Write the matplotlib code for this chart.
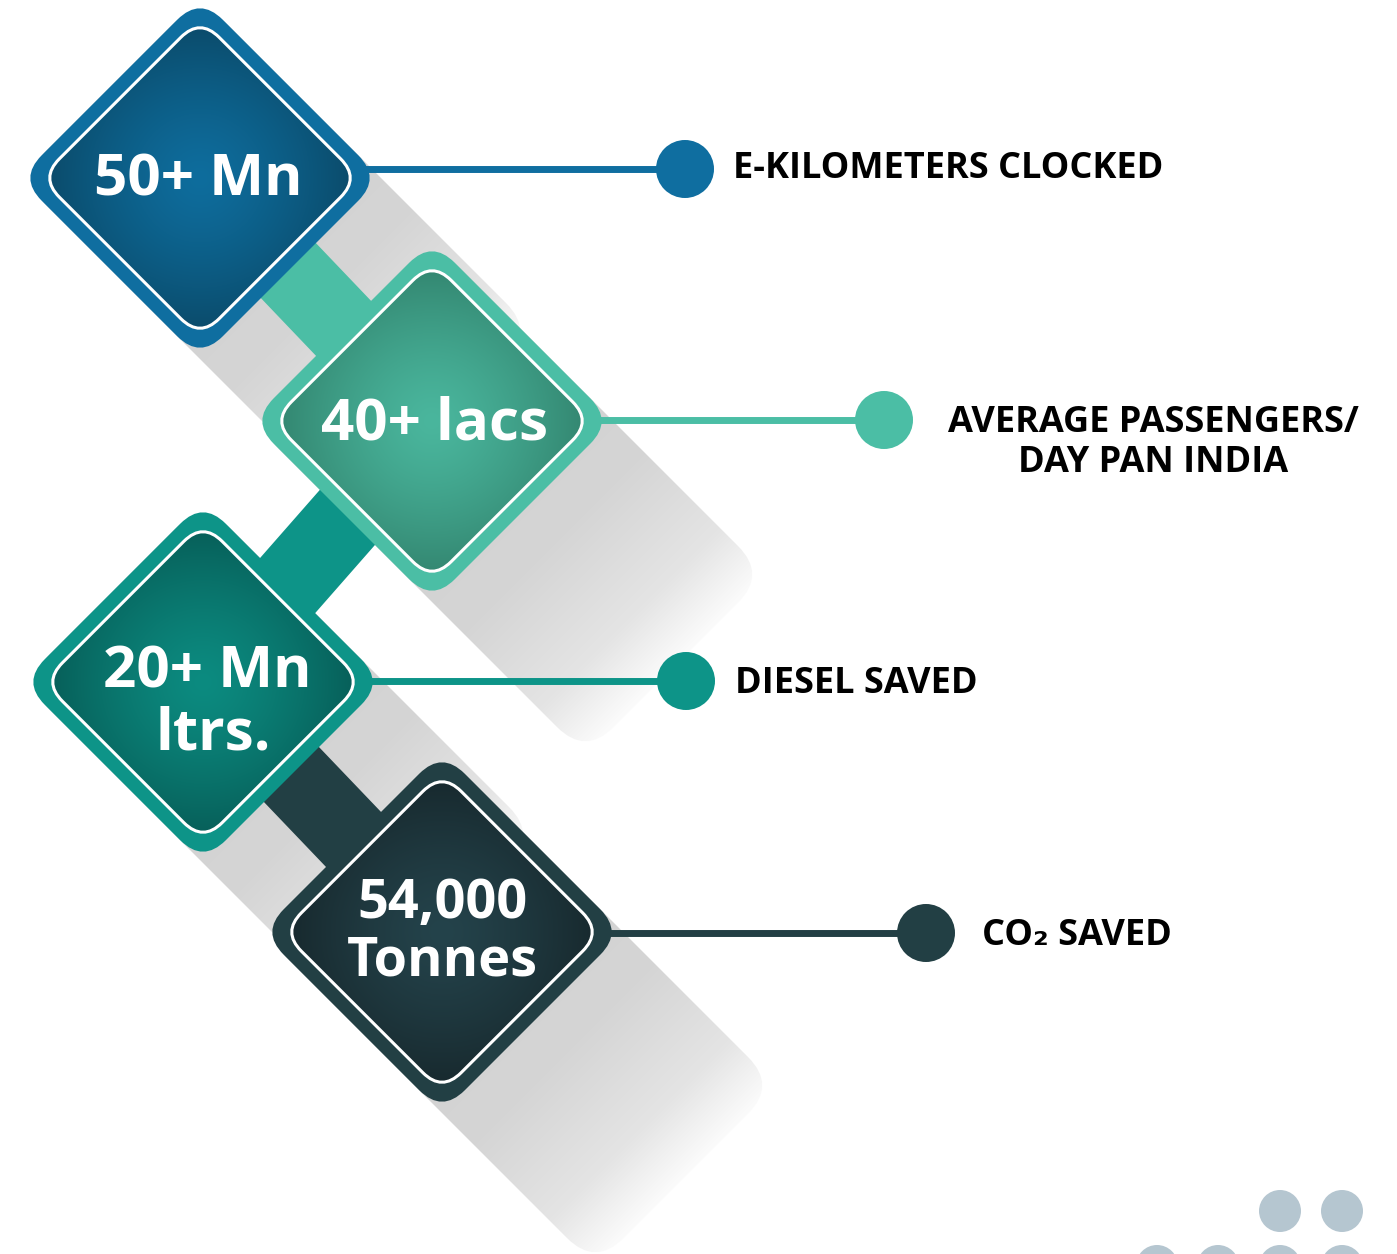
import numpy as np
import matplotlib
matplotlib.use("Agg")
import matplotlib.pyplot as plt
from matplotlib.patches import FancyBboxPatch, Circle
from matplotlib.transforms import Affine2D
from matplotlib.colors import to_rgb

W, H = 1397, 1254
FONT = ["Open Sans", "DejaVu Sans"]

# figures shown in the tiles and their captions
values = ["50+ Mn", "40+ lacs", "20+ Mn\nltrs.", "54,000\nTonnes"]
captions = ["E-KILOMETERS CLOCKED", "AVERAGE PASSENGERS/\nDAY PAN INDIA",
            "DIESEL SAVED", "CO₂ SAVED"]

# layout (pixels, y downwards)
centers = [(200, 178), (432, 421), (203, 682), (442, 932)]
line_y = [169, 420, 681, 933]
dot_x = [685, 884, 686, 926]
cap_x = [733, 1153, 735, 982]
cap_ha = ["left", "center", "left", "left"]
cap_base = [178, 432, 693, 945]
val_base = [195, 440, 687, 918]
val_x = [198, 435, 207, 442]

ring = ["#0f6ea0", "#4bbea5", "#0d9488", "#223f44"]
inner_mid = ["#0e6d9d", "#4ab69d", "#0c8b80", "#24434b"]
inner_edge = ["#0b4c6c", "#348872", "#07605a", "#182a2f"]

fig = plt.figure(figsize=(W / 100, H / 100), dpi=100)
ax = fig.add_axes([0, 0, 1, 1])
ax.set_xlim(0, W)
ax.set_ylim(H, 0)
ax.axis("off")

OUT_HALF, OUT_R = 128, 32
IN_HALF, IN_R = 113, 27
SH_LEN = 345


def rot(cx, cy):
    return Affine2D().rotate_deg_around(cx, cy, 45) + ax.transData


def grid(x0, x1, y0, y1):
    xs = np.arange(x0, x1) + 0.5
    ys = np.arange(y0, y1) + 0.5
    return np.meshgrid(xs, ys)


# long shadows running down-right from each tile
for cx, cy in centers:
    band = FancyBboxPatch((cx - OUT_HALF, cy - OUT_HALF), OUT_HALF + SH_LEN, 2 * OUT_HALF,
                          boxstyle=f"round,pad=0,rounding_size=40",
                          transform=rot(cx, cy), fc="none", ec="none")
    ax.add_patch(band)
    x0, x1, y0, y1 = cx - 200, cx + 420, cy - 200, cy + 420
    X, Y = grid(x0, x1, y0, y1)
    t = ((X - cx) + (Y - cy)) / np.sqrt(2)
    a = np.interp(t, [0, 170, 280, SH_LEN], [1.0, 0.95, 0.6, 0.08])
    img = np.zeros(X.shape + (4,))
    img[..., :3] = to_rgb("#d2d2d2")
    img[..., 3] = a
    im = ax.imshow(img, extent=(x0, x1, y1, y0), origin="upper", zorder=1,
                   interpolation="bilinear")
    im.set_clip_path(band)

# thick links between consecutive tiles, coloured like the lower tile
for i in range(1, len(centers)):
    (xa, ya), (xb, yb) = centers[i - 1], centers[i]
    ax.plot([xa, xb], [ya, yb], color=ring[i], lw=56, solid_capstyle="butt", zorder=2)

# leader lines with end dots
for i, (cx, cy) in enumerate(centers):
    ax.plot([cx, dot_x[i]], [line_y[i], line_y[i]], color=ring[i], lw=5,
            solid_capstyle="butt", zorder=2)
    ax.add_patch(Circle((dot_x[i], line_y[i]), 29, color=ring[i], zorder=2, lw=0))

# tiles: coloured ring, radial gradient core, thin white outline
for i, (cx, cy) in enumerate(centers):
    tr = rot(cx, cy)
    ax.add_patch(FancyBboxPatch((cx - OUT_HALF, cy - OUT_HALF), 2 * OUT_HALF, 2 * OUT_HALF,
                                boxstyle=f"round,pad=0,rounding_size={OUT_R}",
                                transform=tr, fc=ring[i], ec="none", zorder=3))
    core = FancyBboxPatch((cx - IN_HALF, cy - IN_HALF), 2 * IN_HALF, 2 * IN_HALF,
                          boxstyle=f"round,pad=0,rounding_size={IN_R}",
                          transform=tr, fc="none", ec="white", lw=2.2, zorder=5)
    ax.add_patch(core)
    x0, x1, y0, y1 = cx - 160, cx + 160, cy - 160, cy + 160
    X, Y = grid(x0, x1, y0, y1)
    r = np.clip(np.hypot(X - cx, Y - cy) / 150, 0, 1) ** 1.3
    c0, c1 = np.array(to_rgb(inner_mid[i])), np.array(to_rgb(inner_edge[i]))
    img = c0 * (1 - r[..., None]) + c1 * r[..., None]
    im = ax.imshow(img, extent=(x0, x1, y1, y0), origin="upper", zorder=4,
                   interpolation="bilinear")
    im.set_clip_path(core)

# figures inside the tiles
for i, txt in enumerate(values):
    lines = txt.split("\n")
    size = 42 if i < 3 else 39
    step = 63 if i == 2 else 57
    for k, line in enumerate(lines):
        ax.text(val_x[i] + (6 if (i == 2 and k == 1) else 0), val_base[i] + k * step, line,
                ha="center", va="baseline", color="white", fontsize=size,
                fontweight="bold", family=FONT, zorder=6)

# captions
for i, txt in enumerate(captions):
    for k, line in enumerate(txt.split("\n")):
        ax.text(cap_x[i], cap_base[i] + k * 40, line, ha=cap_ha[i], va="baseline",
                color="black", fontsize=26, fontweight="bold", family=FONT, zorder=6)

# decorative dot grid, bottom right
for yy, xs in [(1211, [1280, 1342]), (1266, [1157, 1218, 1280, 1342])]:
    for xx in xs:
        ax.add_patch(Circle((xx, yy), 21, color="#b5c6d0", lw=0, zorder=2))

ax.set_xlim(0, W)
ax.set_ylim(H, 0)
fig.savefig("out.png", dpi=100, facecolor="white")
